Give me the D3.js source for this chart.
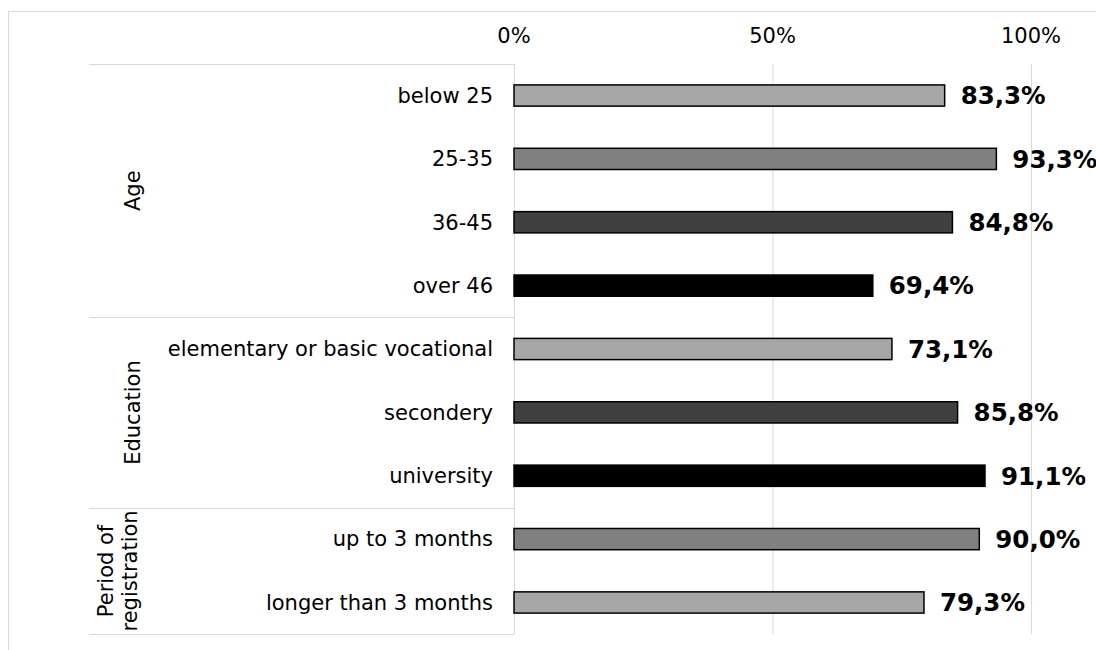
<!DOCTYPE html>
<html>
<head>
<meta charset="utf-8">
<script src="https://cdn.jsdelivr.net/npm/d3@7"></script>
<style>
  body { margin: 0; background: #fff; overflow: hidden; }
  text { font-family: "DejaVu Sans", Verdana, sans-serif; fill: #000; }
</style>
</head>
<body>
<div id="chart"></div>
<script>
// Data
const groups = ["Age", "Education", "Period of registration"];
const categories = ["below 25", "25-35", "36-45", "over 46",
                    "elementary or basic vocational", "secondery", "university",
                    "up to 3 months", "longer than 3 months"];
const categoryGroup = ["Age", "Age", "Age", "Age",
                       "Education", "Education", "Education",
                       "Period of registration", "Period of registration"];
const values = [83.3, 93.3, 84.8, 69.4, 73.1, 85.8, 91.1, 90.0, 79.3];
const shades = ["#a6a6a6", "#808080", "#404040", "#000000",
                "#a6a6a6", "#404040", "#000000",
                "#808080", "#a6a6a6"];
const ticks = [0, 50, 100];

const W = 1096, H = 650;
const plot = { left: 514, right: 1031, top: 64, bottom: 634 };

const svg = d3.select("#chart").append("svg")
    .attr("width", W)
    .attr("height", H);

// outer chart border
svg.append("rect")
    .attr("x", 8.5).attr("y", 11.5)
    .attr("width", W).attr("height", H)
    .attr("fill", "none")
    .attr("stroke", "#d9d9d9");

const x = d3.scaleLinear().domain([0, 100]).range([plot.left, plot.right]);
const y = d3.scaleBand().domain(categories)
    .range([plot.top, plot.bottom])
    .paddingInner(0.665).paddingOuter(0.33);

// gridlines
svg.append("g").selectAll("line")
    .data(ticks)
    .enter().append("line")
    .attr("x1", d => x(d) + 0.5).attr("x2", d => x(d) + 0.5)
    .attr("y1", plot.top).attr("y2", plot.bottom)
    .attr("stroke", "#d9d9d9");

// top axis labels
svg.append("g").selectAll("text")
    .data(ticks)
    .enter().append("text")
    .attr("x", d => x(d))
    .attr("y", 43)
    .attr("text-anchor", "middle")
    .style("font-size", "21px")
    .text(d => d + "%");

// group separators
const step = y.step();
const groupBounds = groups.map(g => {
    const idx = categories.map((c, i) => i).filter(i => categoryGroup[i] === g);
    return { name: g, y0: plot.top + d3.min(idx) * step, y1: plot.top + (d3.max(idx) + 1) * step };
});
const seps = [plot.top].concat(groupBounds.map(b => b.y1));
svg.append("g").selectAll("line")
    .data(seps)
    .enter().append("line")
    .attr("x1", 89).attr("x2", plot.left)
    .attr("y1", d => Math.round(d) + 0.5).attr("y2", d => Math.round(d) + 0.5)
    .attr("stroke", "#d9d9d9");

// group labels (rotated)
groupBounds.forEach(b => {
    const cy = (b.y0 + b.y1) / 2;
    const lines = b.name === "Period of registration" ? ["Period of", "registration"] : [b.name];
    const t = svg.append("text")
        .attr("transform", `translate(${lines.length > 1 ? 113 : 140},${cy}) rotate(-90)`)
        .attr("text-anchor", "middle")
        .style("font-size", "21px");
    lines.forEach((l, i) => {
        t.append("tspan").attr("x", 0).attr("dy", i === 0 ? 0 : "1.15em").text(l);
    });
});

// category labels
svg.append("g").selectAll("text")
    .data(categories)
    .enter().append("text")
    .attr("x", 493)
    .attr("y", d => y(d) + y.bandwidth() / 2)
    .attr("dy", "0.35em")
    .attr("text-anchor", "end")
    .style("font-size", "21px")
    .text(d => d);

// bars
svg.append("g").selectAll("rect")
    .data(categories)
    .enter().append("rect")
    .attr("x", x(0))
    .attr("y", d => y(d))
    .attr("width", (d, i) => x(values[i]) - x(0))
    .attr("height", y.bandwidth())
    .attr("fill", (d, i) => shades[i])
    .attr("stroke", "#000")
    .attr("stroke-width", 1.5);

// value labels
svg.append("g").selectAll("text")
    .data(categories)
    .enter().append("text")
    .attr("x", (d, i) => x(values[i]) + 16)
    .attr("y", d => y(d) + y.bandwidth() / 2)
    .attr("dy", "0.36em")
    .style("font-size", "24.5px")
    .style("font-weight", "bold")
    .text((d, i) => values[i].toFixed(1).replace(".", ",") + "%");
</script>
</body>
</html>
